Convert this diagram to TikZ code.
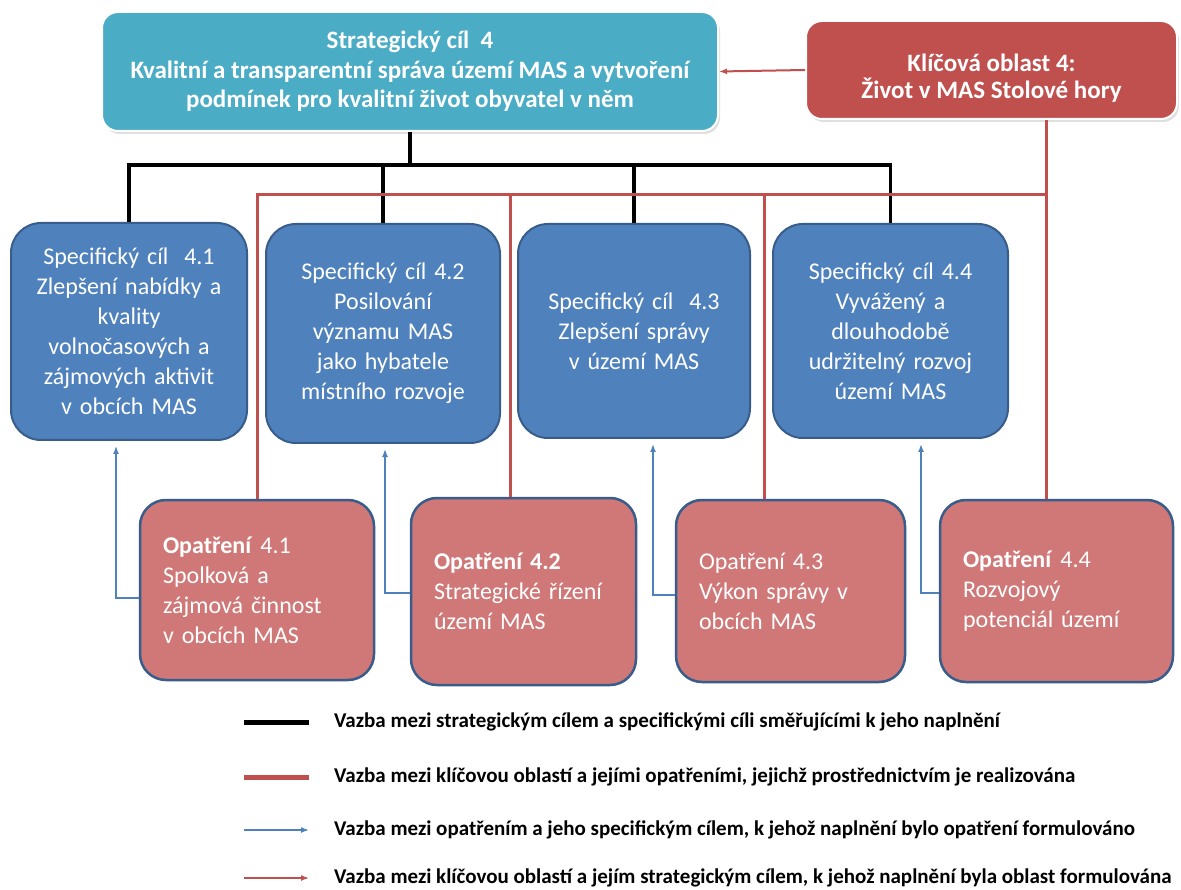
\documentclass[tikz,border=0pt]{standalone}
\usepackage{fontspec}
\setmainfont{Carlito}
\usetikzlibrary{shadows,arrows.meta}
\definecolor{tealbox}{HTML}{4BACC6}
\definecolor{keyred}{HTML}{C0504D}
\definecolor{specblue}{HTML}{4F81BD}
\definecolor{bordblue}{HTML}{385D8A}
\definecolor{opred}{HTML}{D07878}
\begin{document}
\begin{tikzpicture}[x=1pt,y=-1pt,
  topbox/.style={draw=white, line width=2pt, rounded corners=16pt, text=white,
    font=\bfseries\fontsize{25}{29.5}\selectfont, align=center, inner sep=0pt,
    drop shadow={shadow xshift=2pt, shadow yshift=-3pt, opacity=0.25}},
  specbox/.style={fill=specblue, draw=bordblue, line width=2pt, rounded corners=30pt,
    text=white, font=\fontsize{24}{30}\selectfont, align=center, inner sep=0pt},
  opbox/.style={fill=opred, draw=bordblue, line width=2.5pt, rounded corners=26pt,
    text=white, font=\fontsize{24}{30}\selectfont, align=left, inner xsep=23pt, inner ysep=0pt},
  blkline/.style={draw=black, line width=3.5pt},
  redline/.style={draw=keyred, line width=3pt},
  bluearr/.style={draw=specblue, line width=1.5pt, -{Latex[length=8pt,width=6pt]}},
  redarr/.style={draw=keyred, line width=2pt, -{Latex[length=8pt,width=6pt]}},
  legtext/.style={anchor=west, inner sep=0pt, font=\bfseries\fontsize{21}{25}\selectfont}
]
\useasboundingbox (0,0) rectangle (1181,890);
\fill[white] (0,0) rectangle (1181,890);

% top boxes
\node[topbox, fill=tealbox, minimum width=616pt, minimum height=119pt] (strat) at (410,71.5)
  {Strategický cíl~~4\\Kvalitní a transparentní správa území MAS a vytvoření\\podmínek pro kvalitní život obyvatel v něm};
\node[topbox, fill=keyred, minimum width=371pt, minimum height=98pt, font=\bfseries\fontsize{25}{27}\selectfont] (key) at (991.5,70)
  {\rule{0pt}{33pt}Klíčová oblast 4:\\Život v MAS Stolové hory};

% specific goals
\node[specbox, minimum width=236pt, minimum height=217pt, text width=230pt] (spec1) at (129,331.5)
  {Specifický cíl~~4.1\\Zlepšení nabídky a\\kvality\\volnočasových a\\zájmových aktivit\\v obcích MAS};
\node[specbox, minimum width=234pt, minimum height=219pt, text width=228pt] (spec2) at (383,333.5)
  {Specifický cíl 4.2\\Posilování\\významu MAS\\jako hybatele\\místního rozvoje};
\node[specbox, minimum width=232pt, minimum height=214pt, text width=226pt] (spec3) at (634,331)
  {Specifický cíl~~4.3\\Zlepšení správy\\v území MAS};
\node[specbox, minimum width=235pt, minimum height=214pt, text width=229pt] (spec4) at (890.5,331)
  {Specifický cíl 4.4\\Vyvážený a\\dlouhodobě\\udržitelný rozvoj\\území MAS};

% measures
\node[opbox, minimum width=234pt, minimum height=180pt, text width=188pt] (op1) at (257,590)
  {\textbf{Opatření} 4.1\\Spolková a\\zájmová činnost\\v obcích MAS};
\node[opbox, minimum width=225pt, minimum height=187pt, text width=179pt] (op2) at (523.5,591.5)
  {\textbf{Opatření 4.2}\\Strategické řízení\\území MAS};
\node[opbox, minimum width=229pt, minimum height=182pt, text width=183pt] (op3) at (790.5,591)
  {Opatření 4.3\\Výkon správy v\\obcích MAS};
\node[opbox, minimum width=233pt, minimum height=182pt, text width=187pt] (op4) at (1056.5,591)
  {\textbf{Opatření} 4.4\\Rozvojový\\potenciál území};

% black connectors strategic -> specific
\coordinate (bus) at (410,165);
\draw[blkline] (strat.south) -- (bus);
\draw[blkline] (bus) -| (spec1.north);
\draw[blkline] (bus) -| (spec2.north);
\draw[blkline] (bus) -| (spec3.north);
\draw[blkline] (bus) -| (spec4.north);

% red connectors key area -> measures
\coordinate (rb) at (1046,195);
\coordinate (r1) at (257,195);
\coordinate (r2) at (510,195);
\coordinate (r3) at (764,195);
\draw[redline] (key.south -| rb) -- (rb |- op4.north);
\draw[redline] (rb) -- (r1) -- (op1.north);
\draw[redline] (r2) -- (r2 |- op2.north);
\draw[redline] (r3) -- (r3 |- op3.north);

% red arrow key -> strategic
\draw[redarr] (key.west) -- (strat.east);

% blue arrows measure -> specific goal
\coordinate (b1) at (116,598);
\coordinate (b2) at (385,593);
\coordinate (b3) at (653,595);
\coordinate (b4) at (921,593);
\draw[bluearr, shorten >=5pt] (op1.west |- b1) -- (b1) -- (b1 |- spec1.south);
\draw[bluearr, shorten >=5pt] (op2.west |- b2) -- (b2) -- (b2 |- spec2.south);
\draw[bluearr, shorten >=5pt] (op3.west |- b3) -- (b3) -- (b3 |- spec3.south);
\draw[bluearr, shorten >=5pt] (op4.west |- b4) -- (b4) -- (b4 |- spec4.south);

% legend
\coordinate (l1a) at (244,722); \coordinate (l1b) at (309,722);
\coordinate (l2a) at (244,777); \coordinate (l2b) at (309,777);
\coordinate (l3a) at (244,830); \coordinate (l3b) at (309,830);
\coordinate (l4a) at (244,878); \coordinate (l4b) at (309,878);
\draw[draw=black, line width=5pt] (l1a) -- (l1b);
\draw[draw=keyred, line width=5pt] (l2a) -- (l2b);
\draw[draw=specblue, line width=1.5pt, -{Latex[length=8pt,width=6pt]}] (l3a) -- (l3b);
\draw[draw=keyred, line width=1.5pt, -{Latex[length=8pt,width=6pt]}] (l4a) -- (l4b);
\node[legtext] (leg1) at (334,722) {Vazba mezi strategickým cílem a specifickými cíli směřujícími k jeho naplnění};
\node[legtext] (leg2) at (334,777) {Vazba mezi klíčovou oblastí a jejími opatřeními, jejichž prostřednictvím je realizována};
\node[legtext] (leg3) at (334,830) {Vazba mezi opatřením a jeho specifickým cílem, k jehož naplnění bylo opatření formulováno};
\node[legtext] (leg4) at (334,878) {Vazba mezi klíčovou oblastí a jejím strategickým cílem, k jehož naplnění byla oblast formulována};
\end{tikzpicture}
\end{document}
